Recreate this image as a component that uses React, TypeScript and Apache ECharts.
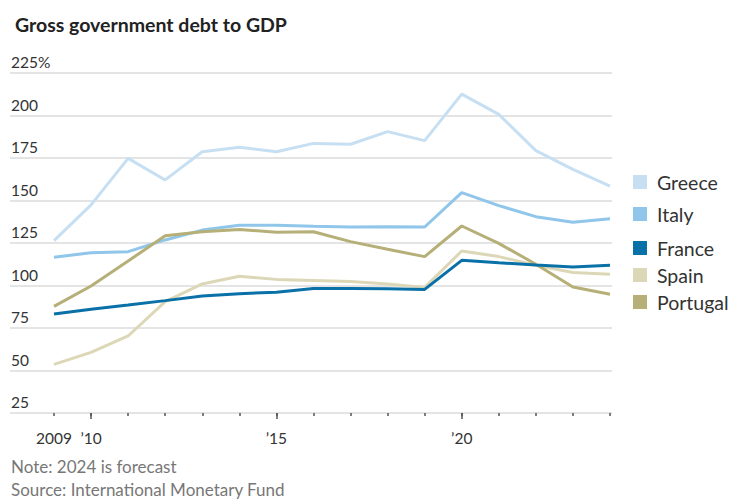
import React, { useEffect, useRef } from "react";
import * as echarts from "echarts";

const years = [2009, 2010, 2011, 2012, 2013, 2014, 2015, 2016, 2017, 2018, 2019, 2020, 2021, 2022, 2023, 2024];
const greece = [126.4, 147.4, 174.8, 162.1, 178.7, 181.3, 178.7, 183.6, 183.1, 190.5, 185.2, 212.6, 200.7, 179.3, 168.3, 158.5];
const italy = [116.6, 119.3, 119.9, 126.8, 132.6, 135.4, 135.4, 134.8, 134.4, 134.6, 134.4, 154.6, 147.0, 140.5, 137.2, 139.3];
const france = [83.2, 86.0, 88.5, 91.1, 93.8, 95.2, 96.0, 98.3, 98.3, 98.1, 97.7, 114.8, 113.4, 112.1, 110.9, 111.9];
const spain = [53.6, 60.7, 70.3, 90.5, 100.9, 105.4, 103.6, 103.0, 102.3, 100.9, 98.9, 120.3, 117.0, 111.9, 107.7, 106.6];
const portugal = [87.7, 99.7, 114.4, 129.3, 131.6, 133.0, 131.3, 131.6, 125.8, 121.3, 117.0, 135.0, 124.8, 112.5, 99.1, 94.8];

const yTicks = [25, 50, 75, 100, 125, 150, 175, 200, 225];
const majorYears = [2010, 2015, 2020];

const seriesDefs = [
  { name: "Greece", data: greece, color: "#c6dff2" },
  { name: "Italy", data: italy, color: "#8fc6ea" },
  { name: "Spain", data: spain, color: "#dcd7b6" },
  { name: "Portugal", data: portugal, color: "#b6af78" },
  { name: "France", data: france, color: "#0a70a8" },
];
const legendOrder = ["Greece", "Italy", "France", "Spain", "Portugal"];
const legendTops = [172, 204, 238, 265, 292];

const FONT = "Lato, 'Noto Sans', sans-serif";

export default function App() {
  const ref = useRef<HTMLDivElement>(null);
  useEffect(() => {
    if (!ref.current) return;
    const chart = echarts.init(ref.current, null, { renderer: "svg" });
    const yMin = yTicks[0];
    const yMax = yTicks[yTicks.length - 1];
    chart.setOption({
      animation: false,
      backgroundColor: "#ffffff",
      textStyle: { fontFamily: FONT },
      title: {
        text: "Gross government debt to GDP",
        left: 10,
        top: 9,
        textStyle: { fontSize: 19.5, fontWeight: "bold", color: "#222", fontFamily: FONT },
      },
      grid: [
        { left: 10, right: 121, top: 73, bottom: 89 },
        { left: 54, right: 123, top: 73, bottom: 89 },
      ],
      xAxis: [
        {
          type: "value",
          gridIndex: 1,
          min: years[0],
          max: years[years.length - 1],
          interval: 1,
          position: "bottom",
          axisLine: { show: false },
          axisTick: { show: true, length: 3, lineStyle: { color: "#555", width: 1.5 } },
          splitLine: { show: false },
          axisLabel: {
            margin: 17,
            fontSize: 15.5,
            color: "#333",
            fontFamily: FONT,
            formatter: (v: number) => {
              if (v === years[0]) return String(v);
              if (majorYears.includes(v)) return "\u2019" + String(v).slice(2);
              return "";
            },
          },
        },
        {
          type: "value",
          gridIndex: 1,
          min: years[0],
          max: years[years.length - 1],
          position: "bottom",
          axisLine: { show: false },
          axisTick: { show: true, length: 6, customValues: majorYears, lineStyle: { color: "#555", width: 1.5 } },
          axisLabel: { show: false },
          splitLine: { show: false },
        },
        {
          type: "value",
          gridIndex: 0,
          min: 0,
          max: 1,
          show: false,
        },
      ],
      yAxis: [
        {
          type: "value",
          gridIndex: 0,
          min: yMin,
          max: yMax,
          interval: 25,
          axisLine: { show: false },
          axisTick: { show: false },
          splitLine: { show: true, lineStyle: { color: "#e4e4e4", width: 2 } },
          axisLabel: {
            inside: true,
            margin: 1,
            verticalAlign: "bottom",
            padding: [0, 0, 3, 0],
            fontSize: 15.5,
            color: "#333",
            fontFamily: FONT,
            formatter: (v: number) => (v === yMax ? v + "%" : String(v)),
          },
        },
        {
          type: "value",
          gridIndex: 1,
          min: yMin,
          max: yMax,
          show: false,
        },
      ],
      legend: legendOrder.map((name, i) => ({
        data: [name],
        left: 633,
        top: legendTops[i],
        padding: 0,
        icon: "rect",
        itemWidth: 14,
        itemHeight: 14,
        selectedMode: false,
        textStyle: { fontSize: 19.5, color: "#333", fontFamily: FONT, padding: [0, 0, 0, 5] },
      })),
      graphic: [
        {
          type: "text",
          left: 11,
          top: 458,
          style: { text: "Note: 2024 is forecast", fontSize: 17, fill: "#777", fontFamily: FONT },
        },
        {
          type: "text",
          left: 11,
          top: 481,
          style: { text: "Source: International Monetary Fund", fontSize: 17, fill: "#777", fontFamily: FONT },
        },
      ],
      series: seriesDefs.map((s) => ({
        name: s.name,
        type: "line",
        xAxisIndex: 0,
        yAxisIndex: 1,
        data: years.map((y, i) => [y, s.data[i]]),
        showSymbol: false,
        symbol: "none",
        color: s.color,
        lineStyle: { color: s.color, width: 3 },
        itemStyle: { color: s.color },
      })),
    });
    return () => chart.dispose();
  }, []);
  return <div ref={ref} style={{ width: 733, height: 502, position: "absolute", left: 0, top: 0 }} />;
}
